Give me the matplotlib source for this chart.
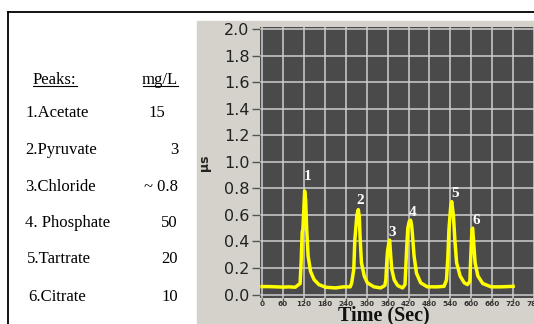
import matplotlib.pyplot as plt
from matplotlib.patches import Rectangle
from matplotlib.lines import Line2D

# trace: time (s) and conductivity (uS)
time_s = [0, 20, 40, 60, 77, 95, 109, 112, 115, 117, 120, 122, 125, 128, 132, 139,
          149, 163, 182, 211, 234, 253, 257, 263, 266, 272, 276, 279, 281, 285, 293,
          302, 321, 340, 352, 355, 358, 360, 363, 366, 369, 372, 379, 389, 403, 410,
          412, 415, 418, 422, 426, 429, 431, 436, 443, 455, 474, 503, 522, 529, 533,
          536, 541, 544, 549, 553, 558, 568, 580, 589, 596, 599, 602, 604, 607, 611,
          619, 633, 657, 686, 720]
signal_us = [0.06, 0.06, 0.058, 0.056, 0.058, 0.055, 0.083, 0.24, 0.47, 0.49, 0.66, 0.78,
             0.71, 0.49, 0.29, 0.175, 0.113, 0.075, 0.055, 0.05, 0.058, 0.058, 0.088, 0.19,
             0.41, 0.60, 0.64, 0.58, 0.44, 0.24, 0.14, 0.088, 0.058, 0.05, 0.068, 0.11,
             0.26, 0.33, 0.38, 0.41, 0.29, 0.19, 0.11, 0.068, 0.05, 0.075, 0.19, 0.36,
             0.50, 0.55, 0.56, 0.52, 0.46, 0.29, 0.16, 0.088, 0.058, 0.058, 0.062, 0.11,
             0.29, 0.49, 0.66, 0.70, 0.59, 0.41, 0.24, 0.14, 0.088, 0.075, 0.10, 0.31,
             0.49, 0.50, 0.39, 0.24, 0.14, 0.083, 0.058, 0.058, 0.062]

peak_ids = ['1', '2', '3', '4', '5', '6']
peak_label_t = [132, 282, 373, 431, 554, 615]
peak_label_v = [0.89, 0.71, 0.47, 0.62, 0.76, 0.56]

names = ['1.Acetate', '2.Pyruvate', '3.Chloride', '4. Phosphate', '5.Tartrate', '6.Citrate']
conc = ['15', '3', '~ 0.8', '50', '20', '10']

W, H = 534, 324
fig = plt.figure(figsize=(W / 100, H / 100), dpi=100)
fig.patch.set_facecolor('white')

def fx(px):
    return px / W

def fy(py):
    return 1 - py / H

# frame and grey panel
fig.add_artist(Line2D([fx(8), 1], [fy(12), fy(12)], color='black', lw=1.3))
fig.add_artist(Line2D([fx(8), fx(8)], [fy(12), 0], color='black', lw=1.3))
fig.add_artist(Rectangle((fx(197), 0), 1 - fx(197), fy(21), color='#d5d2cb', zorder=0))

# left side table
serif = 'Liberation Serif'
fig.text(fx(33), fy(80), 'Peaks:', fontsize=12, family=serif, va='center')
fig.text(fx(178), fy(80), 'mg/L', fontsize=12, family=serif, va='center', ha='right')
fig.add_artist(Line2D([fx(33), fx(77)], [fy(86), fy(86)], color='black', lw=0.8))
fig.add_artist(Line2D([fx(143), fx(178)], [fy(86), fy(86)], color='black', lw=0.8))
row_y = [113, 150, 187, 223, 259, 297]
name_x = [25, 25, 25, 25, 27, 28]
for i in range(len(names)):
    fig.text(fx(name_x[i]), fy(row_y[i]), names[i], fontsize=12, family=serif, va='center')
    if i == 0:
        fig.text(fx(148), fy(row_y[i]), conc[i], fontsize=12, family=serif, va='center')
    else:
        fig.text(fx(178), fy(row_y[i]), conc[i], fontsize=12, family=serif, va='center', ha='right')

# chromatogram
ax = fig.add_axes([fx(260), fy(298), fx(534) - fx(260), fy(27) - fy(298)])
ax.set_facecolor('#4a4a4a')
ax.plot(time_s, signal_us, color='#ffff00', lw=2.5, zorder=3,
        solid_joinstyle='round')
for i in range(len(peak_ids)):
    ax.text(peak_label_t[i], peak_label_v[i], peak_ids[i], color='white', fontsize=11,
            family=serif, fontweight='bold', ha='center', va='center', zorder=4)

ax.set_xlim(-6, 774)
ax.set_ylim(-0.026, 2.015)
ax.set_xticks(range(0, 781, 60))
ax.set_yticks([0.0, 0.2, 0.4, 0.6, 0.8, 1.0, 1.2, 1.4, 1.6, 1.8, 2.0])
ax.set_yticklabels(['%.1f' % v for v in ax.get_yticks()])
ax.grid(True, color='#cfcfcf', lw=1.1)
ax.set_axisbelow(True)
for s in ax.spines.values():
    s.set_visible(False)
ax.tick_params(axis='y', length=6, width=1, color='#555555', pad=1.5,
               labelsize=11.5, labelcolor='#222222')
ax.tick_params(axis='x', length=2, width=1, color='#555555', pad=0.5,
               labelsize=5.2, labelcolor='#333333')
for lab in ax.get_xticklabels():
    lab.set_fontweight('bold')

fig.text(fx(205), fy(163), 'μs', rotation=90, fontsize=9, fontweight='bold',
         ha='center', va='center', color='#222222')
fig.text(fx(384), fy(315), 'Time (Sec)', fontsize=14.5, family=serif, fontweight='bold',
         ha='center', va='center', color='#111111')

fig.savefig('out.png', dpi=100)
